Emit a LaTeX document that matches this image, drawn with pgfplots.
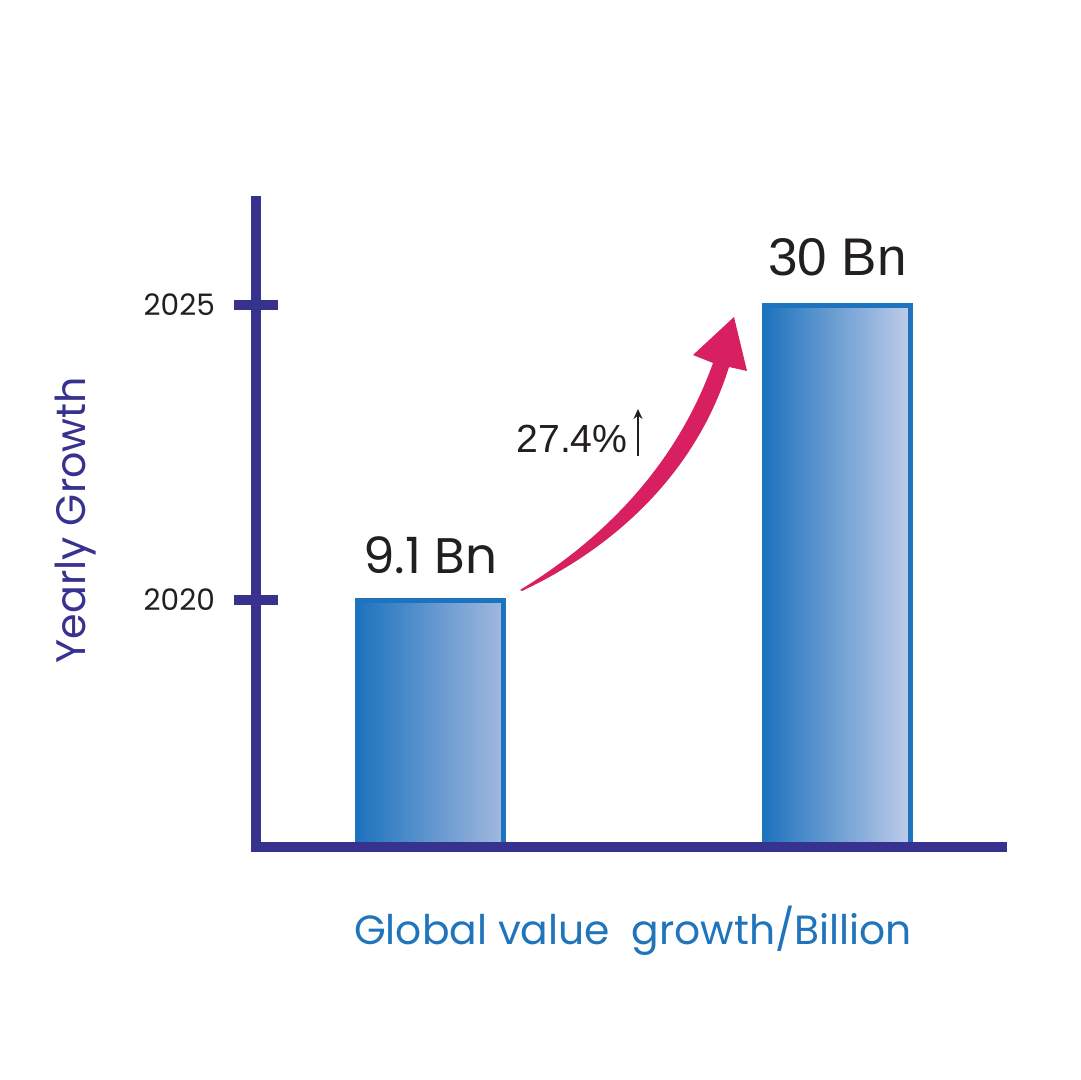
\documentclass[border=0pt]{standalone}
\usepackage{pgfplots}
\pgfplotsset{compat=1.18}
\usepackage{fontspec}
\setmainfont{Poppins}
\newfontfamily\arialf{Liberation Sans}
\usetikzlibrary{arrows.meta}
\definecolor{navy}{HTML}{38328F}
\definecolor{barblue}{HTML}{1E73BE}
\definecolor{barlightA}{HTML}{A2B9DE}
\definecolor{barlightB}{HTML}{C0CCE9}
\definecolor{xlab}{HTML}{1F74BB}
\definecolor{arrowred}{HTML}{D81F5F}
\definecolor{darktext}{HTML}{231F20}
\begin{document}
\begin{tikzpicture}
\begin{axis}[
  at={(128pt,116.5pt)}, anchor=south west,
  scale only axis, width=372.85pt, height=323pt,
  xmin=-0.4287, xmax=1.4034, ymin=0.814, ymax=11.763,
  y filter/.expression={y-2015},
  axis lines=left,
  axis line style={-, line width=5pt, navy, line cap=rect},
  xtick=\empty,
  ytick={5,10}, yticklabels={2020,2025},
  tick style={line width=5pt, navy},
  major tick length=22pt,
  tick align=center,
  yticklabel style={font=\fontsize{14.8}{17}\selectfont, text=darktext, xshift=-6pt},
  xlabel={Global value\ \ growth/Billion},
  xlabel style={at={(rel axis cs:0.5056,-0.1517)}, anchor=base, font=\fontsize{20.4}{24}\selectfont, text=xlab},
  ylabel={Yearly Growth},
  ylabel style={at={(rel axis cs:-0.2293,0.506)}, anchor=base, font=\fontsize{20.6}{24}\selectfont, text=navy},
  axis on top,
]
\addplot[ybar, bar width=73pt, bar shift=0pt, draw=barblue, line width=2.5pt,
  left color=barblue, right color=barlightA,
  nodes near coords={9.1 Bn},
  every node near coord/.append style={anchor=base, yshift=13.5pt, font=\fontsize{25}{28}\selectfont, text=darktext}]
  coordinates {(0,2020)};
\addplot[ybar, bar width=73pt, bar shift=0pt, draw=barblue, line width=2.5pt,
  left color=barblue, right color=barlightB,
  nodes near coords={30 Bn},
  every node near coord/.append style={anchor=base, yshift=15pt, font=\arialf\fontsize{26.5}{30}\selectfont, text=darktext}]
  coordinates {(1,2025)};
\end{axis}
\begin{scope}[x=0.5pt,y=-0.5pt,yshift=540pt]
\fill[arrowred] (520,590) .. controls (615,532) and (680,455) .. (713,363) -- (693,355) -- (734,317) -- (747,371) -- (729,367) .. controls (700,460) and (630,540) .. (522,591) -- cycle;
\node[anchor=base west, inner sep=0pt, font=\arialf\fontsize{19.6}{24}\selectfont, text=darktext] at (516,453) {27.4\%};
\draw[darktext, line width=1.3pt, -{Stealth[length=5pt,width=4.5pt]}] (638,456) -- (638,409);
\end{scope}
\pgfresetboundingbox
\path (0,0) rectangle (540pt,540pt);
\end{tikzpicture}
\end{document}
